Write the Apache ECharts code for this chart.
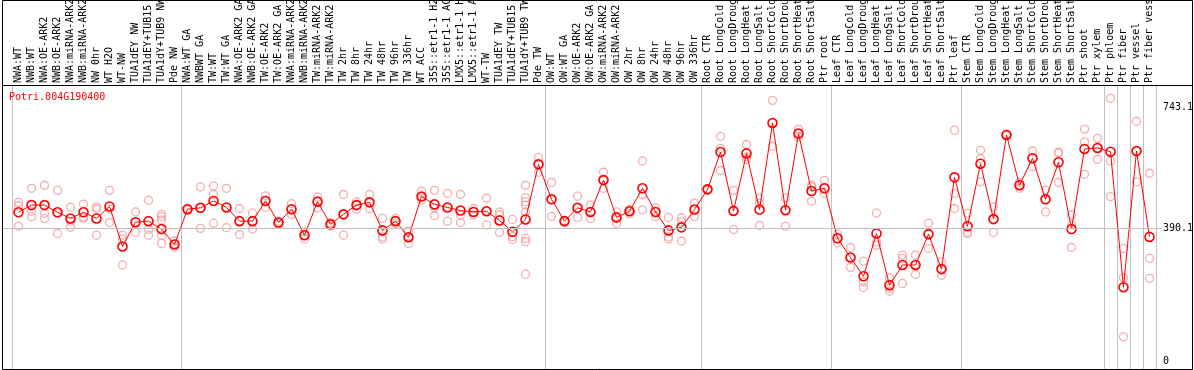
<!DOCTYPE html>
<html>
<head>
<meta charset="utf-8">
<script src="https://cdn.jsdelivr.net/npm/echarts@6/dist/echarts.min.js"></script>
<style>
html,body{margin:0;padding:0;background:#fff;}
#chart{width:1194px;height:370px;}
</style>
</head>
<body>
<div id="chart"></div>
<script>
// ---- data ----
const title = 'Potri.004G190400';

const categories = [
  'NWA:WT','NWB:WT','NWA:OE-ARK2','NWB:OE-ARK2','NWA:miRNA-ARK2','NWB:miRNA-ARK2','NW 0hr','WT H2O','WT-NW','TUA1dEY NW','TUA1dEY+TUB15','TUA1dY+TUB9 NW','Pde NW',
  'NWA:WT GA','NWBWT GA','TW:WT','TW:WT GA','NWA:OE-ARK2 GA','NWB:OE-ARK2 GA','TW:OE-ARK2','TW:OE-ARK2 GA','NWA:miRNA-ARK2 GA','NWB:miRNA-ARK2 GA','TW:miRNA-ARK2','TW:miRNA-ARK2 GA','TW 2hr','TW 8hr','TW 24hr','TW 48hr','TW 96hr','TW 336hr','WT ACC','35S::etr1-1 H2O','35S::etr1-1 ACC','LMX5::etr1-1 H2O','LMX5::etr1-1 ACC','WT-TW','TUA1dEY TW','TUA1dEY+TUB15 TW','TUA1dY+TUB9 TW','Pde TW',
  'OW:WT','OW:WT GA','OW:OE-ARK2','OW:OE-ARK2 GA','OW:miRNA-ARK2','OW:miRNA-ARK2 GA','OW 2hr','OW 8hr','OW 24hr','OW 48hr','OW 96hr','OW 336hr',
  'Root CTR','Root LongCold','Root LongDrought','Root LongHeat','Root LongSalt','Root ShortCold','Root ShortDrought','Root ShortHeat','Root ShortSalt','Ptr root',
  'Leaf CTR','Leaf LongCold','Leaf LongDrought','Leaf LongHeat','Leaf LongSalt','Leaf ShortCold','Leaf ShortDrought','Leaf ShortHeat','Leaf ShortSalt','Ptr leaf',
  'Stem CTR','Stem LongCold','Stem LongDrought','Stem LongHeat','Stem LongSalt','Stem ShortCold','Stem ShortDrought','Stem ShortHeat','Stem ShortSalt','Ptr shoot','Ptr xylem',
  'Ptr phloem','Ptr fiber','Ptr vessel','Ptr fiber vessel'
];

const groupSizes = [13, 28, 12, 10, 10, 11, 1, 1, 1, 1];

const means = [
  437,458,458,437,419,437,419,454,337,408,411,388,343,
  446,450,470,451,411,411,470,407,446,370,468,402,431,458,466,384,411,364,483,460,451,442,438,440,413,380,416,577,
  475,411,450,438,531,422,440,507,438,384,393,445,
  504,613,441,609,445,698,443,667,499,507,
  361,305,250,375,224,283,283,373,271,539,
  396,579,417,663,516,595,475,583,388,622,625,
  614,218,616,365
];

const replicates = [
  [466,456,396],[507,440,424],[516,434,419],[501,375,434],[452,411,393],[461,423,419],[452,446,370],[501,446,407],[370,359,283],[438,378,408],[472,387,370],[431,424,414,388,370,346],[353,344,335],
  [448,446,444],[511,390,450],[514,489,405],[507,392,451],[448,372,411],[435,388,411],[485,452,470],[411,407,402],[462,431,446],[380,359,370],[481,450,468],[407,397,402],[489,370,431],[468,446,458],[489,448,466],[419,365,359],[419,411,404],[382,346,364],[499,473,483],[501,450,427],[492,411,451],[489,429,407],[448,429,438],[478,400,440],[438,429,378],[416,366,358],[516,479,468,458,438,361,351,256],[598,554,577],
  [524,425,475],[413,411,409],[484,422,450],[458,419,438],[554,507,531],[438,404,422],[446,433,440],[587,489,444],[450,424,438],[422,365,359],[421,409,353],[464,425,445],
  [506,504,502],[659,624,559],[501,387,441],[635,599,592],[478,463,399],[764,630,698],[479,396,443],[680,658,667],[516,511,469],[530,492,507],
  [373,349,361],[334,276,305],[294,234,217],[435,350,341],[246,215,207],[312,302,229],[312,255,283],[405,331,373],[292,253,271],[677,492,448],
  [434,378,375],[618,594,526],[453,378,417],[665,663,661],[524,516,507],[616,570,595],[502,438,475],[613,610,524],[429,334,400],[680,643,548],[653,625,592],
  [770,587,483],[331,246,73],[703,526,616],[551,302,244]
];

const yLabelValues = [0, 390.1, 743.1];
const yGridValues = [390.1];

// ---- derived ----
const groupStarts = new Set();
(function(){ let s = 0; groupSizes.forEach(n => { groupStarts.add(s); s += n; }); })();
const scatterData = [];
replicates.forEach((arr, i) => arr.forEach(v => scatterData.push([i, v])));
const labelData = categories.map((c, i) => [i]);

const MONO = '"DejaVu Sans Mono", "Liberation Mono", monospace';
const GRAY = '#c0c0c0';
const Y_MIN = -21, Y_MAX = 806;

const chart = echarts.init(document.getElementById('chart'), null, {renderer: 'canvas'});
chart.setOption({
  animation: false,
  backgroundColor: '#ffffff',
  grid: [
    {left: 12, top: 86, width: 1144, height: 283, containLabel: false},
    {left: 2, top: 86, width: 1160, height: 283, containLabel: false}
  ],
  xAxis: [
    {
      type: 'category', gridIndex: 0, position: 'top', data: categories, boundaryGap: true,
      axisLine: {show: false},
      axisTick: {show: true, inside: false, length: 86, interval: (i) => groupStarts.has(i),
                 lineStyle: {color: GRAY, width: 1}},
      splitLine: {show: true, interval: (i) => groupStarts.has(i), lineStyle: {color: GRAY, width: 1}},
      axisLabel: {show: false}
    },
    {type: 'value', gridIndex: 1, min: 0, max: 1, show: false}
  ],
  yAxis: [
    {type: 'value', gridIndex: 0, min: Y_MIN, max: Y_MAX, show: false, splitLine: {show: false}},
    {type: 'value', gridIndex: 1, min: Y_MIN, max: Y_MAX, show: false, splitLine: {show: false}}
  ],
  series: [
    {
      type: 'line', xAxisIndex: 1, yAxisIndex: 1, data: [], silent: true, z: 1,
      markLine: {
        silent: true, symbol: ['none', 'none'], animation: false,
        label: {show: true, position: 'end', distance: 1, color: '#000', fontFamily: MONO, fontSize: 10,
                formatter: (p) => String(p.value)},
        lineStyle: {color: GRAY, width: 1, type: 'solid'},
        emphasis: {disabled: true},
        data: yLabelValues.map(v => ({
          yAxis: v,
          label: {color: '#000', opacity: 1},
          lineStyle: {color: yGridValues.indexOf(v) >= 0 ? GRAY : 'rgba(0,0,0,0)', width: 1, type: 'solid'}
        }))
      }
    },
    {
      // category labels above the plot, placed through the category scale
      type: 'custom', xAxisIndex: 0, yAxisIndex: 0, data: labelData, silent: true, clip: false, z: 5,
      renderItem: function (params, api) {
        const x = api.coord([api.value(0), Y_MAX]);
        return {
          type: 'text', x: x[0], y: x[1] - 3, rotation: Math.PI / 2,
          style: {text: categories[params.dataIndex], fontFamily: MONO, fontSize: 10, fill: '#000',
                  align: 'left', verticalAlign: 'middle'}
        };
      }
    },
    {
      type: 'scatter', xAxisIndex: 0, yAxisIndex: 0, data: scatterData, silent: true, z: 2,
      symbol: 'circle', symbolSize: 8,
      itemStyle: {color: 'rgba(255,255,255,0)', borderColor: '#f29a9a', borderWidth: 1.3}
    },
    {
      type: 'line', xAxisIndex: 0, yAxisIndex: 0, data: means, silent: true, z: 3,
      symbol: 'circle', symbolSize: 9, showAllSymbol: true,
      itemStyle: {color: 'rgba(255,255,255,0)', borderColor: '#ff0000', borderWidth: 1.6},
      lineStyle: {color: '#ff0000', width: 1}
    }
  ],
  graphic: [
    {type: 'text', z: 100, silent: true, x: 9, y: 97,
     style: {text: title, fontFamily: MONO, fontSize: 10, fill: '#ff0000', align: 'left', verticalAlign: 'middle'}},
    {type: 'rect', z: 100, silent: true, shape: {x: 2.5, y: 0.5, width: 1190, height: 369},
     style: {fill: 'none', stroke: '#000', lineWidth: 1}},
    {type: 'line', z: 100, silent: true, shape: {x1: 2.5, y1: 85.5, x2: 1192.5, y2: 85.5},
     style: {stroke: '#000', lineWidth: 1}}
  ]
});
</script>
</body>
</html>
